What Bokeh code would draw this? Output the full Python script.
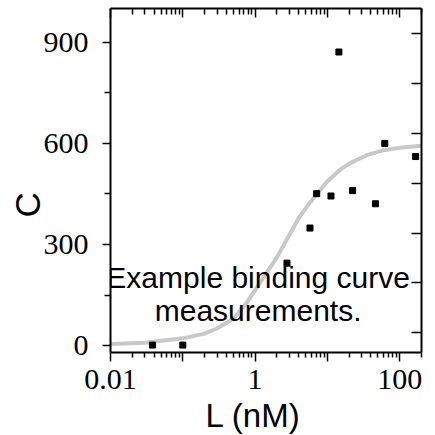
from bokeh.plotting import figure
from bokeh.models import (LogAxis, LinearAxis, FixedTicker, Range1d, Label, Title,
                          CustomJSTickFormatter)
from bokeh.embed import file_html
from bokeh.resources import INLINE

# measured points
L_points = [0.038, 0.1, 2.76, 5.74, 7.1, 11.2, 14.4, 22.3, 46.2, 62.1, 166]
C_points = [2, 2, 245, 349, 451, 444, 871, 460, 421, 600, 561]

# fitted binding curve
L_curve = [0.01, 0.03, 0.1, 0.2, 0.3, 0.5, 0.75, 1.0, 1.5, 2.0, 3.0, 4.0, 5.5,
           7.5, 10, 15, 20, 35, 60, 100, 200]
C_curve = [5, 9, 22, 36, 52, 80, 125, 165, 222, 262, 330, 378, 420,
           455, 488, 522, 540, 565, 580, 587, 593]

x_major = [0.01, 0.1, 1, 10, 100]
x_minor = [m * d for d in [0.01, 0.1, 1, 10] for m in range(2, 10)] + [200]
y_major = [0, 300, 600, 900]
y_minor = [150, 450, 750]
right_ticks = [0, 1, 2, 3, 4, 5, 6]

NB = "\u00a0"
p = figure(width=427, height=435, frame_width=311, frame_height=344,
           x_axis_type="log", x_range=Range1d(0.01, 200), y_range=Range1d(-20, 1000),
           output_backend="svg", toolbar_location=None,
           min_border_left=110, min_border_top=8, min_border_right=6, min_border_bottom=83,
           y_axis_label="C" + NB * 5)
p.extra_y_ranges = {"right": Range1d(-0.4, 6.51)}
p.grid.visible = False
p.outline_line_color = None
p.background_fill_color = "white"
p.border_fill_color = "white"

fmt = CustomJSTickFormatter(code="""
if (Math.abs(tick-0.01) < 1e-9) return "0.01";
if (Math.abs(tick-1) < 1e-9) return "1";
if (Math.abs(tick-100) < 1e-9) return "100";
return "";
""")

xa = p.xaxis[0]
xa.ticker = FixedTicker(ticks=x_major, minor_ticks=x_minor)
xa.formatter = fmt
ya = p.yaxis[0]
ya.ticker = FixedTicker(ticks=y_major, minor_ticks=y_minor)

for ax in (xa, ya):
    ax.axis_line_width = 2
    ax.axis_line_color = "black"
    ax.major_tick_line_width = 1.5
    ax.minor_tick_line_width = 1.5
    ax.major_tick_in = 0
    ax.minor_tick_in = 0
    ax.major_label_text_font = "Liberation Serif"
    ax.major_label_text_font_size = "30px"
    ax.major_label_text_color = "black"
    ax.axis_label_text_font = "Liberation Sans"
    ax.axis_label_text_font_size = "35px"
    ax.axis_label_text_font_style = "normal"
    ax.axis_label_text_color = "black"

xa.major_tick_out = 9
xa.minor_tick_out = 5
xa.major_label_standoff = 8
ya.major_tick_out = 8
ya.minor_tick_out = 6
ya.major_label_standoff = 14
ya.axis_label_standoff = -6

top = LogAxis(ticker=FixedTicker(ticks=x_major, minor_ticks=x_minor),
              formatter=CustomJSTickFormatter(code="return '';"))
top.major_tick_in = 9
top.major_tick_out = 0
top.minor_tick_in = 6
top.minor_tick_out = 0
top.major_label_text_font_size = "0px"
top.major_label_standoff = 0
top.axis_line_width = 2
top.major_tick_line_width = 1.5
top.minor_tick_line_width = 1.5
p.add_layout(top, "above")

right = LinearAxis(y_range_name="right", ticker=FixedTicker(ticks=right_ticks),
                   formatter=CustomJSTickFormatter(code="return '';"))
right.major_tick_in = 10
right.major_tick_out = 0
right.minor_tick_in = 0
right.minor_tick_out = 0
right.major_label_text_font_size = "0px"
right.major_label_standoff = 0
right.axis_line_width = 2
right.major_tick_line_width = 1.5
p.add_layout(right, "right")

p.add_layout(Title(text="L (nM)", align="left", offset=95, vertical_align="top",
                   text_font="Liberation Sans", text_font_size="33px",
                   text_font_style="normal", text_color="black"), "below")

p.line(L_curve, C_curve, line_color="#c8c8c8", line_width=4)
p.scatter(L_points, C_points, marker="square", size=6, fill_color="black",
          line_color="black")

for txt, yv in [("Example binding curve", 201), ("measurements.", 106)]:
    p.add_layout(Label(x=1.1, y=yv, text=txt, text_align="center",
                       text_baseline="alphabetic", text_font="Liberation Sans",
                       text_font_size="30px", text_color="black"))

open("out.html", "w").write(file_html(p, INLINE))
